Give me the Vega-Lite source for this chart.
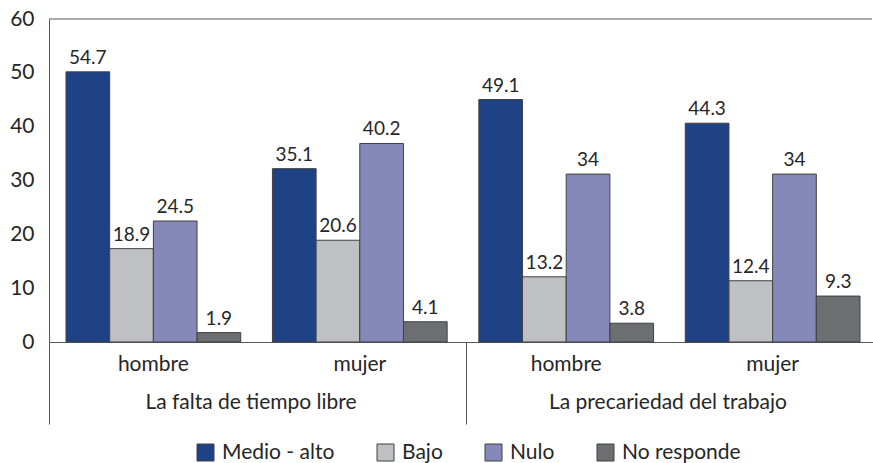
{
  "$schema": "https://vega.github.io/schema/vega-lite/v6.json",
  "width": 823,
  "height": 323,
  "autosize": "none",
  "padding": {"left": 49, "top": 19, "right": 1, "bottom": 121},
  "background": "white",
  "config": {
    "font": "Lato",
    "view": {"stroke": null},
    "axis": {"labelFont": "Lato", "labelColor": "#262626", "domainColor": "#595959", "grid": false, "labelLimit": 0}
  },
  "datasets": {
    "barras": [
      {"grupo": "falta hombre", "categoria": "La falta de tiempo libre", "sexo": "hombre", "serie": "Medio - alto", "valor": 54.7},
      {"grupo": "falta hombre", "categoria": "La falta de tiempo libre", "sexo": "hombre", "serie": "Bajo", "valor": 18.9},
      {"grupo": "falta hombre", "categoria": "La falta de tiempo libre", "sexo": "hombre", "serie": "Nulo", "valor": 24.5},
      {"grupo": "falta hombre", "categoria": "La falta de tiempo libre", "sexo": "hombre", "serie": "No responde", "valor": 1.9},
      {"grupo": "falta mujer", "categoria": "La falta de tiempo libre", "sexo": "mujer", "serie": "Medio - alto", "valor": 35.1},
      {"grupo": "falta mujer", "categoria": "La falta de tiempo libre", "sexo": "mujer", "serie": "Bajo", "valor": 20.6},
      {"grupo": "falta mujer", "categoria": "La falta de tiempo libre", "sexo": "mujer", "serie": "Nulo", "valor": 40.2},
      {"grupo": "falta mujer", "categoria": "La falta de tiempo libre", "sexo": "mujer", "serie": "No responde", "valor": 4.1},
      {"grupo": "precariedad hombre", "categoria": "La precariedad del trabajo", "sexo": "hombre", "serie": "Medio - alto", "valor": 49.1},
      {"grupo": "precariedad hombre", "categoria": "La precariedad del trabajo", "sexo": "hombre", "serie": "Bajo", "valor": 13.2},
      {"grupo": "precariedad hombre", "categoria": "La precariedad del trabajo", "sexo": "hombre", "serie": "Nulo", "valor": 34},
      {"grupo": "precariedad hombre", "categoria": "La precariedad del trabajo", "sexo": "hombre", "serie": "No responde", "valor": 3.8},
      {"grupo": "precariedad mujer", "categoria": "La precariedad del trabajo", "sexo": "mujer", "serie": "Medio - alto", "valor": 44.3},
      {"grupo": "precariedad mujer", "categoria": "La precariedad del trabajo", "sexo": "mujer", "serie": "Bajo", "valor": 12.4},
      {"grupo": "precariedad mujer", "categoria": "La precariedad del trabajo", "sexo": "mujer", "serie": "Nulo", "valor": 34},
      {"grupo": "precariedad mujer", "categoria": "La precariedad del trabajo", "sexo": "mujer", "serie": "No responde", "valor": 9.3}
    ],
    "borde": [{"v": 60}],
    "categorias": [
      {"categoria": "La falta de tiempo libre"},
      {"categoria": "La precariedad del trabajo"}
    ]
  },
  "layer": [
    {
      "data": {"name": "barras"},
      "layer": [
        {
          "mark": {"type": "bar", "stroke": "#404040", "strokeWidth": 1},
          "encoding": {
            "x": {
              "field": "grupo", "type": "nominal", "sort": null,
              "scale": {"range": [0, 828], "paddingInner": 0.1536, "paddingOuter": 0.0824},
              "axis": {"title": null, "labelExpr": "split(datum.value, ' ')[1]", "labelAngle": 0, "ticks": false, "tickSize": 0, "labelFontSize": 21, "labelPadding": 11}
            },
            "xOffset": {
              "field": "serie", "type": "nominal", "sort": ["Medio - alto", "Bajo", "Nulo", "No responde"],
              "scale": {"paddingInner": 0, "paddingOuter": 0}
            },
            "y": {"field": "valor", "type": "quantitative", "scale": {"domain": [0, 65.4], "nice": false}, "axis": null},
            "color": {
              "field": "serie", "type": "nominal", "sort": ["Medio - alto", "Bajo", "Nulo", "No responde"],
              "scale": {"domain": ["Medio - alto", "Bajo", "Nulo", "No responde"], "range": ["#1f4286", "#bfc0c4", "#8489b9", "#6d6e71"]},
              "legend": {
                "title": null, "orient": "none", "legendX": 146, "legendY": 423, "direction": "horizontal",
                "symbolType": "square", "symbolSize": 289, "symbolStrokeColor": "#404040", "symbolStrokeWidth": 1,
                "labelFontSize": 21, "labelColor": "#262626", "labelOffset": 6, "columnPadding": 40, "padding": 0, "labelFont": "Lato", "labelLimit": 0
              }
            }
          }
        },
        {
          "mark": {"type": "text", "baseline": "bottom", "dy": -4, "fontSize": 19, "color": "#262626", "font": "Lato"},
          "encoding": {
            "x": {"field": "grupo", "type": "nominal", "sort": null},
            "xOffset": {"field": "serie", "type": "nominal", "sort": ["Medio - alto", "Bajo", "Nulo", "No responde"]},
            "y": {"field": "valor", "type": "quantitative"},
            "text": {"field": "valor", "type": "quantitative"}
          }
        }
      ]
    },
    {
      "data": {"name": "borde"},
      "mark": {"type": "rule", "color": "#595959", "strokeWidth": 1},
      "encoding": {
        "y": {
          "field": "v", "type": "quantitative", "scale": {"domain": [0, 60], "nice": false},
          "axis": {"orient": "left", "title": null, "values": [0, 10, 20, 30, 40, 50, 60], "ticks": false, "tickSize": 0, "labelFontSize": 21, "labelPadding": 15}
        }
      }
    },
    {
      "data": {"name": "categorias"},
      "mark": {"type": "rule", "opacity": 0},
      "encoding": {
        "x": {
          "field": "categoria", "type": "nominal", "sort": null,
          "scale": {"range": [0, 834], "paddingInner": 0, "paddingOuter": 0},
          "axis": {"orient": "bottom", "title": null, "domain": false, "tickBand": "extent", "tickSize": 82, "tickColor": "#595959", "labelAngle": 0, "labelFontSize": 21, "labelPadding": -33, "labelOffset": -7}
        }
      }
    }
  ],
  "resolve": {"scale": {"x": "independent", "y": "independent"}}
}
